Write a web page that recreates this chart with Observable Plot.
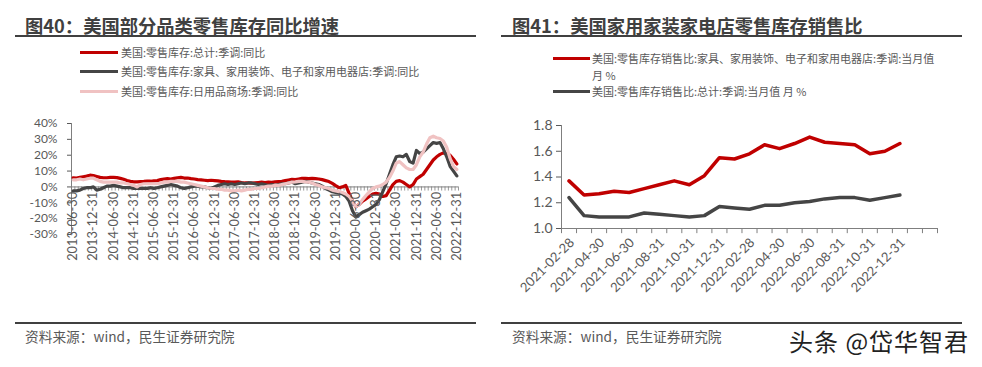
<!DOCTYPE html>
<html><head><meta charset="utf-8">
<script src="https://cdn.jsdelivr.net/npm/d3@7"></script>
<script src="https://cdn.jsdelivr.net/npm/@observablehq/plot@0.6"></script>
<style>
body{margin:0;background:#fff;}
#root{position:relative;width:982px;height:367px;overflow:hidden;font-family:"Noto Sans CJK SC",sans-serif;background:#fff;}
.abs{position:absolute;}
.title{font-size:18.3px;font-weight:bold;color:#404040;white-space:nowrap;line-height:1;}
.rule{height:2px;background:#404040;}
.leg{font-size:11px;color:#595959;line-height:13px;white-space:nowrap;}
.sw{height:3px;}
.cap{font-size:13.7px;color:#595959;white-space:nowrap;line-height:1;}
.wm{font-size:24px;color:#222;white-space:nowrap;line-height:1;letter-spacing:1px;text-shadow:0 0 2px #fff;}
</style></head>
<body><div id="root"></div>
<script>
// ---------- Left chart data (monthly, 2013-06 .. 2022-12) ----------
const leftTickLabels = ["2013-06-30","2013-12-31","2014-06-30","2014-12-31","2015-06-30","2015-12-31","2016-06-30","2016-12-31","2017-06-30","2017-12-31","2018-06-30","2018-12-31","2019-06-30","2019-12-31","2020-06-30","2020-12-31","2021-06-30","2021-12-31","2022-06-30","2022-12-31"];
const leftYTicks = [-30,-20,-10,0,10,20,30,40];
const leftNames = ["美国:零售库存:总计:季调:同比","美国:零售库存:家具、家用装饰、电子和家用电器店:季调:同比","美国:零售库存:日用品商场:季调:同比"];
const totalYoY = [5.8,
 5.6,6.0,6.4,6.8,7.4,7.2,
 6.6,6.0,5.8,5.8,6.0,6.0,
 5.9,5.4,4.8,4.0,3.5,3.2,
 3.2,3.4,3.5,3.7,3.6,3.8,
 4.0,4.6,5.0,5.2,5.0,5.4,
 5.8,6.0,5.6,5.6,5.2,5.0,
 4.6,4.4,4.2,4.0,4.2,4.0,
 3.8,3.5,3.3,3.2,3.0,3.1,
 3.2,2.8,2.5,2.6,2.4,2.6,
 2.8,3.0,2.8,3.0,2.9,3.2,
 3.4,3.6,4.0,4.4,4.8,4.6,
 5.0,5.4,5.4,5.2,5.4,5.2,
 5.0,4.6,4.0,3.4,2.2,0.8,
 -0.5,0.0,1.0,-4.0,-9.0,-12.5,
 -11.0,-9.0,-7.5,-6.0,-4.5,-4.0,
 -4.5,-6.0,-5.5,-2.0,1.5,3.5,
 4.0,3.0,1.5,0.0,1.5,5.0,
 6.5,8.0,11.0,14.0,17.0,19.0,
 20.5,21.5,21.0,20.0,17.5,14.5];
const furnitureYoY = [-2.5,
 -2.5,-2.0,-1.0,-0.5,-0.5,0.0,
 -2.0,-1.5,-0.5,0.5,0.5,1.0,
 0.5,0.0,-0.5,-0.5,-0.5,-1.0,
 -1.0,-1.0,-1.0,-1.0,-0.5,-1.0,
 -0.5,0.0,0.5,1.0,1.5,1.0,
 0.5,-0.5,-1.0,-0.5,0.0,0.5,
 0.5,0.0,0.0,-0.5,-1.0,0.0,
 1.0,1.5,2.0,1.5,2.0,1.5,
 2.0,2.5,2.0,2.5,2.5,2.0,
 1.5,2.0,1.5,1.0,1.5,1.0,
 1.5,2.0,2.0,2.5,3.0,2.0,
 2.5,3.0,3.5,3.0,2.5,2.0,
 1.5,0.5,-1.0,-2.0,-3.0,-3.5,
 -4.0,-4.5,-6.0,-9.0,-15.0,-19.0,
 -17.5,-16.0,-15.0,-14.0,-12.5,-11.0,
 -8.0,-3.0,2.0,8.0,14.0,19.0,
 19.5,19.0,20.5,16.0,15.0,23.0,
 21.0,22.0,24.0,26.0,28.0,27.5,
 28.0,24.0,19.0,13.0,10.0,7.0];
const merchandiseYoY = [4.5,
 4.5,5.0,4.5,5.0,5.5,5.5,
 4.5,3.5,3.0,3.0,3.0,3.0,
 3.0,2.5,2.5,2.0,1.5,1.0,
 0.0,1.5,2.0,2.0,2.0,2.0,
 2.0,2.5,3.0,3.0,3.5,3.5,
 3.5,3.0,3.0,2.5,2.0,1.5,
 1.0,0.5,0.0,-0.5,-1.0,-1.0,
 -1.5,-1.5,-2.0,-2.0,-2.5,-2.5,
 -2.0,-2.5,-2.0,-1.5,-1.5,-1.0,
 -1.0,-0.5,0.0,0.5,0.5,1.0,
 1.0,1.5,2.0,2.5,3.0,3.2,
 3.5,3.5,3.2,3.0,2.5,1.5,
 1.0,0.0,-0.5,-1.0,-2.0,-2.5,
 -3.0,-3.5,-4.5,-6.0,-9.0,-12.5,
 -11.0,-8.0,-5.5,-3.0,-1.0,0.0,
 0.5,1.5,3.0,6.0,10.0,15.0,
 16.0,14.0,12.0,11.0,11.0,14.0,
 19.0,22.0,27.0,31.0,32.0,31.0,
 30.5,29.0,25.0,18.0,13.0,11.0];

// ---------- Right chart data (monthly, 2021-02 .. 2022-12) ----------
const rightDates = ["2021-02-28","2021-03-31","2021-04-30","2021-05-31","2021-06-30","2021-07-31","2021-08-31","2021-09-30","2021-10-31","2021-11-30","2021-12-31","2022-01-31","2022-02-28","2022-03-31","2022-04-30","2022-05-31","2022-06-30","2022-07-31","2022-08-31","2022-09-30","2022-10-31","2022-11-30","2022-12-31"];
const rightSlots = 25; // axis has two empty categories after the data
const rightTickLabels = ["2021-02-28","2021-04-30","2021-06-30","2021-08-31","2021-10-31","2021-12-31","2022-02-28","2022-04-30","2022-06-30","2022-08-31","2022-10-31","2022-12-31"];
const rightYTicks = [1.0,1.2,1.4,1.6,1.8];
const furnitureRatio = [1.37,1.26,1.27,1.29,1.28,1.31,1.34,1.37,1.34,1.41,1.55,1.54,1.58,1.65,1.62,1.66,1.71,1.67,1.66,1.65,1.58,1.60,1.66];
const totalRatio = [1.24,1.10,1.09,1.09,1.09,1.12,1.11,1.10,1.09,1.10,1.17,1.16,1.15,1.18,1.18,1.20,1.21,1.23,1.24,1.24,1.22,1.24,1.26];

const RED = "#C00000", GRAY = "#454545", PINK = "#F0C2C2", AXIS = "#7f7f7f", TXT = "#595959";
const root = document.getElementById("root");

function el(cls, style, html) {
  const d = document.createElement("div");
  d.className = "abs " + cls;
  Object.assign(d.style, style);
  if (html != null) d.innerHTML = html;
  root.appendChild(d);
  return d;
}

// Titles and rules
el("title", {left: "25px", top: "16px"}, "图40：美国部分品类零售库存同比增速");
el("title", {left: "512px", top: "16px"}, "图41：美国家用家装家电店零售库存销售比");
el("rule", {left: "15px", top: "35px", width: "461px"});
el("rule", {left: "501px", top: "35px", width: "461px"});
el("rule", {left: "15px", top: "322px", width: "461px"});
el("rule", {left: "501px", top: "322px", width: "461px"});
el("cap", {left: "25px", top: "330px"}, "资料来源：wind，民生证券研究院");
el("cap", {left: "512px", top: "330px"}, "资料来源：wind，民生证券研究院");
el("wm", {left: "789px", top: "329px"}, "头条 @岱华智君");

// Left legend
const leftColors = [RED, GRAY, PINK];
const leftLegY = [52, 71, 91];
leftNames.forEach((n, i) => {
  el("sw", {left: "80px", top: (leftLegY[i] - 1.5) + "px", width: "38px", background: leftColors[i]});
  el("leg", {left: "121px", top: (leftLegY[i] - 6.5) + "px"}, n);
});
// Right legend
el("sw", {left: "553px", top: "56.5px", width: "37px", background: RED});
el("leg", {left: "592px", top: "49.5px", lineHeight: "17px"}, "美国:零售库存销售比:家具、家用装饰、电子和家用电器店:季调:当月值<br>月 %");
el("sw", {left: "553px", top: "89.5px", width: "37px", background: GRAY});
el("leg", {left: "592px", top: "84.5px"}, "美国:零售库存销售比:总计:季调:当月值 月 %");

const plotStyle = {fontFamily: "Lato, 'Noto Sans CJK SC', sans-serif", fontSize: "12px", color: TXT, background: "transparent", overflow: "visible"};

// ---------- Left plot ----------
const n = totalYoY.length;
const idx = d3.range(n);
const leftTickIdx = leftTickLabels.map((_, i) => i * 6);
const monthEdges = d3.range(n + 1).map(i => i - 0.5);
const leftPlot = Plot.plot({
  width: 480, height: 175,
  marginLeft: 71, marginRight: 22, marginTop: 13, marginBottom: 51,
  x: {domain: [-0.5, n - 0.5], axis: null},
  y: {domain: [leftYTicks[0], leftYTicks[leftYTicks.length - 1]], ticks: leftYTicks, tickFormat: d => d + "%", tickSize: 4, tickPadding: 10, label: null},
  style: plotStyle,
  marks: [
    Plot.ruleX([-0.5], {y1: leftYTicks[0], y2: leftYTicks[leftYTicks.length - 1], stroke: AXIS}),
    Plot.ruleX(monthEdges, {x: d => d, y1: 0, y2: -2.6, stroke: AXIS, strokeWidth: 0.8}),
    Plot.ruleY([0], {stroke: AXIS}),
    Plot.line(idx, {x: d => d, y: d => totalYoY[d], stroke: RED, strokeWidth: 3.2}),
    Plot.line(idx, {x: d => d, y: d => furnitureYoY[d], stroke: GRAY, strokeWidth: 3.2}),
    Plot.line(idx, {x: d => d, y: d => merchandiseYoY[d], stroke: PINK, strokeWidth: 3.2}),
    Plot.text(leftTickIdx, {x: d => d, y: 0, text: (d, i) => leftTickLabels[i], rotate: -90, textAnchor: "end", dy: 5, fill: TXT, fontSize: 12.8})
  ]
});
const lw = el("", {left: "0px", top: "110px"});
lw.appendChild(leftPlot);

// ---------- Right plot ----------
const ridx = d3.range(rightDates.length);
const rightTickIdx = rightTickLabels.map(l => rightDates.indexOf(l));
const slotEdges = d3.range(rightSlots + 1).map(i => i - 0.5);
const rightPlot = Plot.plot({
  width: 480, height: 190,
  marginLeft: 71, marginRight: 33, marginTop: 15, marginBottom: 72,
  x: {domain: [-0.5, rightSlots - 0.5], axis: null},
  y: {domain: [rightYTicks[0], rightYTicks[rightYTicks.length - 1]], ticks: rightYTicks, tickFormat: d3.format(".1f"), tickSize: 5, tickPadding: 4, label: null},
  style: {...plotStyle, fontSize: "14px"},
  marks: [
    Plot.ruleX([-0.5], {y1: rightYTicks[0], y2: rightYTicks[rightYTicks.length - 1], stroke: AXIS}),
    Plot.ruleX(slotEdges, {x: d => d, y1: rightYTicks[0], y2: rightYTicks[0] - 0.04, stroke: AXIS}),
    Plot.ruleY([rightYTicks[0]], {stroke: AXIS}),
    Plot.line(ridx, {x: d => d, y: d => furnitureRatio[d], stroke: RED, strokeWidth: 3.5}),
    Plot.line(ridx, {x: d => d, y: d => totalRatio[d], stroke: GRAY, strokeWidth: 3.5}),
    Plot.text(rightTickIdx, {x: d => d, y: rightYTicks[0], text: (d, i) => rightTickLabels[i], rotate: -45, textAnchor: "end", dx: 3, dy: 12, fill: TXT, fontSize: 13})
  ]
});
const rw = el("", {left: "490px", top: "110px"});
rw.appendChild(rightPlot);
</script>
</body></html>
